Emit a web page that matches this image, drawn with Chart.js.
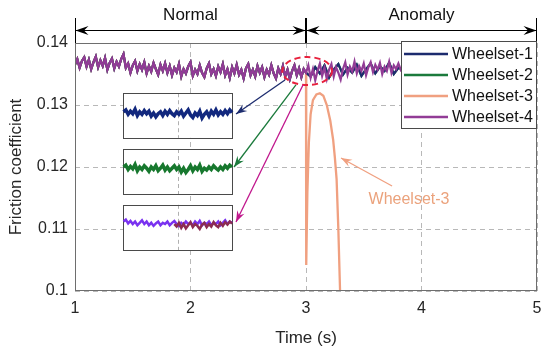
<!DOCTYPE html>
<html>
<head>
<meta charset="utf-8">
<script src="https://cdn.jsdelivr.net/npm/chart.js@4.4.1/dist/chart.umd.min.js"></script>
<style>
    html, body { margin: 0; padding: 0; background: #fff; }
    #wrap { width: 550px; height: 350px; }
</style>
</head>
<body>
<div id="wrap"><canvas id="frictionChart" width="550" height="350"></canvas></div>
<script>
// -------- DATA --------
const timeStart = 1;
const timeStep = 0.02;

// Wheelset-4, 1.00 .. 5.00 s
const wheelset4 = [
    0.1365,0.1374,0.1360,0.1371,0.1377,0.1362,0.1373,0.1358,0.1369,0.1378,0.1361,0.1372,0.1363,0.1376,0.1357,0.1368,0.1375,0.1359,0.1370,0.1362,0.1374,
    0.1382,0.1360,0.1367,0.1352,0.1364,0.1371,0.1355,0.1366,0.1357,0.1369,0.1351,0.1363,0.1354,0.1368,0.1358,0.1349,0.1365,0.1355,0.1367,0.1352,
    0.1363,0.1348,0.1360,0.1353,0.1366,0.1346,0.1358,0.1351,0.1362,0.1369,0.1347,0.1357,0.1350,0.1364,0.1352,0.1345,0.1359,0.1367,0.1350,0.1358,
    0.1347,0.1362,0.1353,0.1366,0.1348,0.1358,0.1344,0.1361,0.1351,0.1365,0.1349,0.1357,0.1343,0.1359,0.1366,0.1348,0.1357,0.1346,0.1363,0.1352,
    0.1361,0.1345,0.1357,0.1349,0.1364,0.1351,0.1343,0.1359,0.1350,0.1363,0.1346,0.1357,0.1342,0.1355,0.1364,0.1348,0.1359,0.1345,0.1358,0.1352,
    0.1364,0.1344,0.1358,0.1340,0.1355,0.1367,0.1347,0.1360,0.1342,0.1357,0.1366,0.1346,0.1361,0.1352,0.1341,0.1358,0.1369,0.1349,0.1362,0.1354,
    0.1370,0.1351,0.1363,0.1355,0.1367,0.1348,0.1361,0.1369,0.1353,0.1365,0.1357,0.1368,0.1350,0.1362,0.1355,0.1370,0.1352,0.1364,0.1358,0.1367,
    0.1357,0.1363,0.1355,0.1361,0.1358,0.1364,0.1356,0.1362,0.1359,0.1365,0.1357,0.1360,0.1354,0.1362,0.1358,0.1363,0.1356,0.1361,0.1359,0.1364,
    0.1356,0.1362,0.1358,0.1363,0.1355,0.1361,0.1357,0.1364,0.1356,0.1360,0.1358,0.1363,0.1355,0.1361,0.1357,0.1362,0.1359,0.1364,0.1356,0.1361,
    0.1358,0.1363,0.1355,0.1362,0.1357,0.1361,0.1356,0.1364,0.1358,0.1360,0.1355,0.1362,0.1357,0.1363,0.1359,0.1361,0.1356,0.1362,0.1358,0.1360
];

// Wheelset-1 / Wheelset-2 after the anomaly starts, 3.00 .. 5.00 s
const anomalyStep = 0.04;
const wheelset1Anomaly = [
    0.1356,0.1346,0.1361,0.1351,0.1364,0.1344,0.1357,0.1366,0.1349,0.1360,
    0.1352,0.1365,0.1347,0.1358,0.1367,0.1351,0.1362,0.1355,0.1368,0.1350,
    0.1360,0.1357,0.1364,0.1355,0.1362,0.1358,0.1365,0.1354,0.1361,0.1357,
    0.1363,0.1356,0.1362,0.1359,0.1364,0.1355,0.1361,0.1358,0.1363,0.1356,
    0.1362,0.1357,0.1364,0.1359,0.1361,0.1356,0.1363,0.1358,0.1362,0.1357,
    0.1360
];

// Wheelset-3 drop after 3 s
const wheelset3DropTimes = [3.002, 3.012, 3.025, 3.04, 3.06, 3.09, 3.12, 3.15, 3.18, 3.21, 3.235, 3.25, 3.265, 3.28, 3.295, 3.30];
const wheelset3DropValues = [0.1042, 0.1160, 0.1240, 0.1285, 0.1308, 0.1317, 0.1319, 0.1315, 0.1300, 0.1275, 0.1244, 0.1215, 0.1180, 0.1100, 0.1000, 0.0970];

// zoomed insets (drawn inside the normal region)
const insetTimeStart = 1.42;
const insetNavy = [
    0.1289,0.1292,0.1285,0.1290,0.1286,0.1293,0.1283,0.1289,0.1285,0.1291,
    0.1286,0.1290,0.1282,0.1287,0.1281,0.1286,0.1289,0.1283,0.1290,0.1285,
    0.1291,0.1286,0.1283,0.1289,0.1285,0.1290,0.1282,0.1287,0.1292,0.1284,
    0.1280,0.1287,0.1283,0.1290,0.1279,0.1285,0.1289,0.1282,0.1290,0.1285,
    0.1292,0.1284,0.1289,0.1285,0.1291,0.1286,0.1292,0.1288
];
const insetGreen = [
    0.1200,0.1203,0.1196,0.1201,0.1197,0.1204,0.1194,0.1200,0.1196,0.1202,
    0.1198,0.1193,0.1200,0.1196,0.1202,0.1194,0.1198,0.1203,0.1195,0.1200,
    0.1194,0.1198,0.1202,0.1196,0.1200,0.1192,0.1198,0.1191,0.1196,0.1202,
    0.1194,0.1200,0.1196,0.1203,0.1193,0.1198,0.1195,0.1200,0.1196,0.1202,
    0.1198,0.1195,0.1200,0.1196,0.1202,0.1198,0.1203,0.1200
];
const insetViolet = [
    0.1112,0.1115,0.1109,0.1113,0.1108,0.1112,0.1106,0.1110,0.1114,0.1108,
    0.1112,0.1106,0.1110,0.1105,0.1109,0.1112,0.1106,0.1110,0.1108,0.1112,
    0.1106,0.1110,0.1113,0.1108,0.1105,0.1110,0.1107,0.1112,0.1108,0.1110,
    0.1106,0.1112,0.1108,0.1113,0.1106,0.1110,0.1108,0.1112,0.1106,0.1110,
    0.1108,0.1112,0.1106,0.1110,0.1114,0.1108,0.1112,0.1110
];
const insetMaroonStart = 1.86;
const insetMaroon = [
    0.1108,0.1104,0.1110,0.1102,0.1108,0.1101,0.1106,0.1111,0.1103,0.1108,
    0.1105,0.1100,0.1107,0.1110,0.1103,0.1108,0.1104,0.1111,0.1106,0.1103,
    0.1110,0.1105,0.1111,0.1107,0.1112,0.1109
];

const xTicks = [1, 2, 3, 4, 5];
const yTicks = [0.1, 0.11, 0.12, 0.13, 0.14];
const seriesNames = ["Wheelset-1", "Wheelset-2", "Wheelset-3", "Wheelset-4"];

// -------- STYLE / ANNOTATION LAYOUT (data units) --------
const seriesColors = ["#1c2b6e", "#1b7a3c", "#f0a080", "#923c96"];
const textColor = "#262626";
const frameColor = "#6e6e6e";
const insetBoxes = [
    { x0: 1.416, x1: 2.36, y0: 0.1247, y1: 0.1319 },
    { x0: 1.416, x1: 2.36, y0: 0.1156, y1: 0.1229 },
    { x0: 1.416, x1: 2.36, y0: 0.1066, y1: 0.1139 }
];
const insetGridX = 1.89;
const zoomArrows = [
    { from: [2.818, 0.13403], to: [2.394, 0.12855], color: "#1c2b6e" },
    { from: [2.913, 0.13323], to: [2.377, 0.1200], color: "#1b7a3c" },
    { from: [2.974, 0.13323], to: [2.394, 0.11113], color: "#c0168c" }
];
const ellipse = { x: 3.01, y: 0.13548, rx: 0.215, ry: 0.00226 };
const w3Label = { text: "Wheelset-3", x: 3.892, y: 0.11468, arrowFrom: [3.745, 0.11694], arrowTo: [3.303, 0.12145] };
const phases = [
    { text: "Normal", from: 1, to: 3 },
    { text: "Anomaly", from: 3, to: 5 }
];

// -------- POINTS --------
const toPoints = (start, step, values) =>
    values.map((v, i) => ({ x: +(start + i * step).toFixed(3), y: v }));

const w4Points = toPoints(timeStart, timeStep, wheelset4);
const normalPoints = w4Points.filter(p => p.x <= 3);
const w1Points = normalPoints.concat(toPoints(3, anomalyStep, wheelset1Anomaly).slice(1));
const w3Points = normalPoints.concat(
    wheelset3DropTimes.map((t, i) => ({ x: t, y: wheelset3DropValues[i] }))
);

// -------- HELPERS --------
function arrowHead(ctx, x, y, angle, len, wid, color) {
    ctx.save();
    ctx.translate(x, y);
    ctx.rotate(angle);
    ctx.fillStyle = color;
    ctx.beginPath();
    ctx.moveTo(0, 0);
    ctx.lineTo(-len, -wid);
    ctx.lineTo(-len * 0.65, 0);
    ctx.lineTo(-len, wid);
    ctx.closePath();
    ctx.fill();
    ctx.restore();
}

function arrow(ctx, x1, y1, x2, y2, color, width, len, wid) {
    ctx.save();
    ctx.strokeStyle = color;
    ctx.lineWidth = width;
    ctx.beginPath();
    ctx.moveTo(x1, y1);
    ctx.lineTo(x2, y2);
    ctx.stroke();
    ctx.restore();
    arrowHead(ctx, x2, y2, Math.atan2(y2 - y1, x2 - x1), len, wid, color);
}

// -------- OVERLAY PLUGIN --------
const overlayPlugin = {
    id: "overlay",
    beforeDatasetsDraw(chart) {
        const { ctx, scales: { x, y } } = chart;
        ctx.save();
        insetBoxes.forEach(b => {
            const left = x.getPixelForValue(b.x0);
            const right = x.getPixelForValue(b.x1);
            const top = y.getPixelForValue(b.y1);
            const bottom = y.getPixelForValue(b.y0);
            ctx.fillStyle = "#fff";
            ctx.fillRect(left, top, right - left, bottom - top);
            ctx.strokeStyle = "#b0b0b0";
            ctx.lineWidth = 1;
            ctx.setLineDash([4, 3]);
            const gx = Math.round(x.getPixelForValue(insetGridX)) + 0.5;
            ctx.beginPath();
            ctx.moveTo(gx, top);
            ctx.lineTo(gx, bottom);
            ctx.stroke();
            ctx.setLineDash([]);
            ctx.strokeStyle = "#4a4a4a";
            ctx.strokeRect(Math.round(left) + 0.5, Math.round(top) + 0.5, Math.round(right - left), Math.round(bottom - top));
        });
        ctx.restore();
    },
    afterDatasetsDraw(chart) {
        const { ctx, scales: { x, y } } = chart;

        // red dashed ellipse
        ctx.save();
        ctx.strokeStyle = "#e8203c";
        ctx.lineWidth = 2;
        ctx.setLineDash([6, 4]);
        const cx = x.getPixelForValue(ellipse.x);
        const cy = y.getPixelForValue(ellipse.y);
        const rx = x.getPixelForValue(ellipse.x + ellipse.rx) - cx;
        const ry = cy - y.getPixelForValue(ellipse.y + ellipse.ry);
        ctx.beginPath();
        ctx.ellipse(cx, cy, rx, ry, 0, 0, Math.PI * 2);
        ctx.stroke();
        ctx.restore();

        zoomArrows.forEach(a => {
            arrow(ctx,
                x.getPixelForValue(a.from[0]), y.getPixelForValue(a.from[1]),
                x.getPixelForValue(a.to[0]), y.getPixelForValue(a.to[1]),
                a.color, 1.3, 11, 4);
        });

        // Wheelset-3 callout
        arrow(ctx,
            x.getPixelForValue(w3Label.arrowFrom[0]), y.getPixelForValue(w3Label.arrowFrom[1]),
            x.getPixelForValue(w3Label.arrowTo[0]), y.getPixelForValue(w3Label.arrowTo[1]),
            seriesColors[2], 1.3, 11, 4);
        ctx.save();
        ctx.font = "16px 'Liberation Sans', Arial, sans-serif";
        ctx.fillStyle = "#eba27c";
        ctx.textAlign = "center";
        ctx.textBaseline = "middle";
        ctx.fillText(w3Label.text, x.getPixelForValue(w3Label.x), y.getPixelForValue(w3Label.y));
        ctx.restore();
    },
    afterDraw(chart) {
        const { ctx, chartArea: area, scales: { x } } = chart;

        // axes frame
        ctx.save();
        ctx.strokeStyle = frameColor;
        ctx.lineWidth = 1;
        ctx.strokeRect(area.left + 0.5, area.top + 0.5, area.right - area.left - 1, area.bottom - area.top - 1);
        ctx.restore();

        // phase markers above the plot
        const lineY = area.top - 12.5;
        ctx.save();
        ctx.strokeStyle = "#000";
        ctx.lineWidth = 1;
        ctx.font = "17px 'Liberation Sans', Arial, sans-serif";
        ctx.fillStyle = "#111";
        ctx.textAlign = "center";
        ctx.textBaseline = "middle";
        phases.forEach(p => {
            const x0 = Math.round(x.getPixelForValue(p.from)) + 0.5;
            const x1 = Math.round(x.getPixelForValue(p.to)) - 0.5;
            ctx.beginPath();
            ctx.moveTo(x0, lineY);
            ctx.lineTo(x1, lineY);
            ctx.moveTo(x0, area.top - 25);
            ctx.lineTo(x0, area.top);
            ctx.moveTo(x1, area.top - 25);
            ctx.lineTo(x1, area.top);
            ctx.stroke();
            arrowHead(ctx, x0, lineY, Math.PI, 13, 4.5, "#000");
            arrowHead(ctx, x1, lineY, 0, 13, 4.5, "#000");
            ctx.fillText(p.text, (x0 + x1) / 2, area.top - 28);
        });
        ctx.restore();

        // legend box in the upper right corner
        const w = 136, h = 87;
        const lx = area.right - w, ly = area.top - 2;
        ctx.save();
        ctx.fillStyle = "#fff";
        ctx.fillRect(lx, ly, w, h);
        ctx.strokeStyle = "#4a4a4a";
        ctx.lineWidth = 1;
        ctx.strokeRect(Math.round(lx) + 0.5, Math.round(ly) + 0.5, w - 1, h);
        ctx.font = "16px 'Liberation Sans', Arial, sans-serif";
        ctx.fillStyle = "#111";
        ctx.textAlign = "left";
        ctx.textBaseline = "middle";
        seriesNames.forEach((name, i) => {
            const ry = ly + 13 + i * 21;
            ctx.strokeStyle = seriesColors[i];
            ctx.lineWidth = 2.5;
            ctx.beginPath();
            ctx.moveTo(lx + 3, ry);
            ctx.lineTo(lx + 47, ry);
            ctx.stroke();
            ctx.fillText(name, lx + 51, ry + 1);
        });
        ctx.restore();
    }
};

// -------- CHART --------
Chart.defaults.font.family = "'Liberation Sans', Arial, sans-serif";
Chart.defaults.color = textColor;

const lineSet = (label, data, color, width, order) => ({
    label, data, borderColor: color, backgroundColor: color,
    borderWidth: width, pointRadius: 0, tension: 0, fill: false, order
});

const ctx = document.getElementById("frictionChart").getContext("2d");

new Chart(ctx, {
    type: "line",
    data: {
        datasets: [
            lineSet(seriesNames[0], w1Points, seriesColors[0], 2.2, 2),
            lineSet(seriesNames[1], w1Points, seriesColors[1], 2.2, 4),
            lineSet(seriesNames[2], w3Points, seriesColors[2], 2.3, 3),
            lineSet(seriesNames[3], w4Points, seriesColors[3], 2.2, 1),
            lineSet("inset-1", toPoints(insetTimeStart, timeStep, insetNavy), "#12287e", 3.5, 0),
            lineSet("inset-2", toPoints(insetTimeStart, timeStep, insetGreen), "#17782e", 3.5, 0),
            lineSet("inset-3a", toPoints(insetTimeStart, timeStep, insetViolet), "#7a32f0", 2.5, 0),
            lineSet("inset-3b", toPoints(insetMaroonStart, timeStep, insetMaroon), "#8c2c52", 2.5, -1)
        ]
    },
    options: {
        responsive: false,
        animation: false,
        devicePixelRatio: 1,
        layout: { padding: { top: 43, right: 13, left: 0, bottom: 0 } },
        plugins: {
            legend: { display: false },
            tooltip: { enabled: false }
        },
        scales: {
            x: {
                type: "linear",
                min: 1,
                max: 5,
                afterBuildTicks: scale => { scale.ticks = xTicks.map(v => ({ value: v })); },
                afterFit: scale => { scale.height = 59; },
                ticks: { font: { size: 16 }, color: textColor, padding: 8, autoSkip: false, maxRotation: 0 },
                grid: { color: "#b8b8b8", drawTicks: false },
                border: { display: false, dash: [5, 4] },
                title: { display: true, text: "Time (s)", font: { size: 17 }, color: textColor, padding: { top: 0, bottom: 1 } }
            },
            y: {
                min: 0.1,
                max: 0.14,
                afterBuildTicks: scale => { scale.ticks = yTicks.map(v => ({ value: v })); },
                afterFit: scale => { scale.width = 75; },
                ticks: { font: { size: 16 }, color: textColor, padding: 7, autoSkip: false, callback: v => String(+v.toFixed(2)) },
                grid: { color: "#b8b8b8", drawTicks: false },
                border: { display: false, dash: [5, 4] },
                title: { display: true, text: "Friction coefficient", font: { size: 17 }, color: textColor, padding: { top: 6, bottom: 0 } }
            }
        }
    },
    plugins: [overlayPlugin]
});
</script>
</body>
</html>
